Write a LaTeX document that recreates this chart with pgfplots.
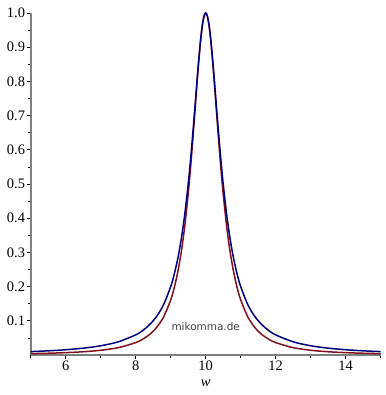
\documentclass[border=0pt]{standalone}
\usepackage{fontspec}
\setmainfont{Liberation Serif}
\newfontfamily\wmfont{DejaVu Sans}
\usepackage{pgfplots}
\pgfplotsset{compat=1.18}
\definecolor{mred}{RGB}{128,16,32}
\definecolor{mblue}{RGB}{0,0,128}
\definecolor{maxis}{RGB}{128,128,128}
\begin{document}
\begin{tikzpicture}
\begin{axis}[
  name=ax,
  scale only axis, width=350bp, height=342bp,
  xmin=5, xmax=15, ymin=0, ymax=1,
  axis lines*=left,
  axis line style={maxis, line width=1.6bp},
  xtick={6,8,10,12,14},
  minor xtick={5,7,9,11,13,15},
  ytick={0.1,0.2,0.3,0.4,0.5,0.6,0.7,0.8,0.9,1.0},
  minor ytick={0.05,0.15,0.25,0.35,0.45,0.55,0.65,0.75,0.85,0.95},
  tick align=outside,
  major tick length=4bp, minor tick length=3bp,
  tick style={black, line width=0.7bp},
  /pgf/number format/assume math mode=true,
  yticklabel style={/pgf/number format/fixed, /pgf/number format/precision=1, /pgf/number format/fixed zerofill, inner sep=1.5bp},
  xticklabel style={inner sep=2bp},
  ticklabel style={font=\fontsize{14.5}{15}\selectfont},
  xlabel={\textit{w}},
  xlabel style={font=\fontsize{14.5}{15}\selectfont, yshift=-3bp},
  clip=false,
]
\addplot[mred, line width=1.5bp, smooth] coordinates {
(5.0,0.0040)(5.5,0.0051)(6.0,0.0069)(6.5,0.0095)(7.0,0.0138)(7.5,0.0214)(8.0,0.0362)(8.2,0.0462)(8.4,0.0602)(8.6,0.0808)(8.8,0.1120)(9.0,0.1612)(9.1,0.1963)(9.2,0.2416)(9.3,0.3000)(9.4,0.3753)(9.5,0.4710)(9.55,0.5270)(9.6,0.5882)(9.65,0.6538)(9.7,0.7221)(9.75,0.7907)(9.8,0.8562)(9.85,0.9142)(9.9,0.9602)(9.95,0.9898)(10.0,1.0)
(10.05,0.9898)(10.1,0.9602)(10.15,0.9142)(10.2,0.8562)(10.25,0.7907)(10.3,0.7221)(10.35,0.6538)(10.4,0.5882)(10.45,0.5270)(10.5,0.4710)(10.6,0.3753)(10.7,0.3000)(10.8,0.2416)(10.9,0.1963)(11.0,0.1612)(11.2,0.1120)(11.4,0.0808)(11.6,0.0602)(11.8,0.0462)(12.0,0.0362)(12.5,0.0214)(13.0,0.0138)(13.5,0.0095)(14.0,0.0069)(14.5,0.0051)(15.0,0.0040)
};
\addplot[mblue, line width=1.5bp, smooth] coordinates {
(5.0,0.0099)(5.5,0.0122)(6.0,0.0154)(6.5,0.0200)(7.0,0.0270)(7.5,0.0385)(8.0,0.0588)(8.2,0.0716)(8.4,0.0890)(8.6,0.1131)(8.8,0.1479)(9.0,0.2000)(9.1,0.2358)(9.2,0.2809)(9.3,0.3378)(9.4,0.4098)(9.5,0.5000)(9.55,0.5525)(9.6,0.6098)(9.65,0.6711)(9.7,0.7353)(9.75,0.8000)(9.8,0.8621)(9.85,0.9174)(9.9,0.9615)(9.95,0.9901)(10.0,1.0)
(10.05,0.9901)(10.1,0.9615)(10.15,0.9174)(10.2,0.8621)(10.25,0.8000)(10.3,0.7353)(10.35,0.6711)(10.4,0.6098)(10.45,0.5525)(10.5,0.5000)(10.6,0.4098)(10.7,0.3378)(10.8,0.2809)(10.9,0.2358)(11.0,0.2000)(11.2,0.1479)(11.4,0.1131)(11.6,0.0890)(11.8,0.0716)(12.0,0.0588)(12.5,0.0385)(13.0,0.0270)(13.5,0.0200)(14.0,0.0154)(14.5,0.0122)(15.0,0.0099)
};
\node[font=\wmfont\fontsize{10.5}{12}\selectfont, text=black!75] at (axis cs:10,0.083) {mikomma.de};
\end{axis}
\path ([xshift=-30.7bp,yshift=-40bp]ax.south west) rectangle ([xshift=5.3bp,yshift=13bp]ax.north east);
\end{tikzpicture}
\end{document}
